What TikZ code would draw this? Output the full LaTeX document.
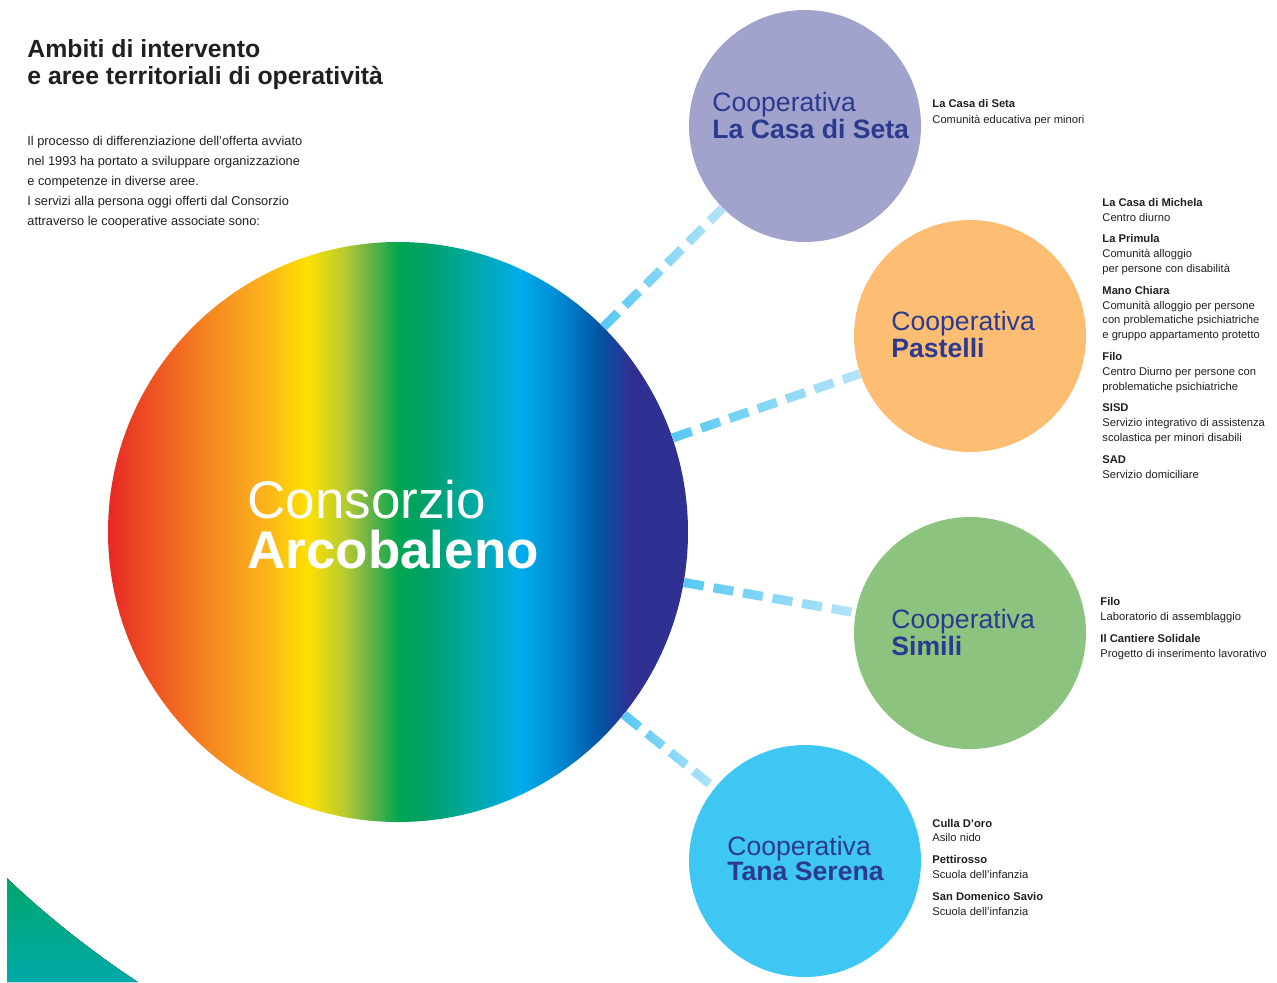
\documentclass[tikz,border=0pt]{standalone}
\usepackage{fontspec}
\setmainfont{Liberation Sans}
\usetikzlibrary{positioning, calc, fadings}
\definecolor{textdark}{HTML}{231F20}
\definecolor{coopblue}{HTML}{2B3A8E}
\definecolor{setafill}{HTML}{A1A3CD}
\definecolor{pastellifill}{HTML}{FDBE74}
\definecolor{similifill}{HTML}{8CC47F}
\definecolor{tanafill}{HTML}{3FC7F4}
\definecolor{linkdark}{HTML}{55C8F3}
\definecolor{linklight}{HTML}{B8E5FA}
\definecolor{cornertop}{HTML}{00A66B}
\definecolor{cornerbot}{HTML}{00AAA8}
%Rainbow for the big circle:
\definecolor{rbA}{HTML}{E62A25}
\definecolor{rbB}{HTML}{F47B20}
\definecolor{rbC}{HTML}{FBB01E}
\definecolor{rbD}{HTML}{FFE000}
\definecolor{rbE}{HTML}{B7CC30}
\definecolor{rbF}{HTML}{6DB446}
\definecolor{rbG}{HTML}{00A650}
\definecolor{rbH}{HTML}{00A06A}
\definecolor{rbI}{HTML}{00A99D}
\definecolor{rbJ}{HTML}{00ACEC}
\definecolor{rbK}{HTML}{0088D0}
\definecolor{rbL}{HTML}{0057A5}
\definecolor{rbM}{HTML}{2E3192}
\pgfdeclarehorizontalshading{rainbow}{100bp}{
color(0bp)=(rbA); color(25bp)=(rbA); color(32.6bp)=(rbB); color(38.2bp)=(rbC);
color(42.2bp)=(rbD); color(45.4bp)=(rbE); color(47.4bp)=(rbF); color(50.1bp)=(rbG);
color(52.4bp)=(rbH); color(56bp)=(rbI); color(60.6bp)=(rbJ); color(64bp)=(rbK);
color(67.2bp)=(rbL); color(69.9bp)=(rbM); color(100bp)=(rbM)}
\tikzfading[name=linkfade, left color=transparent!0, right color=transparent!100]
\tikzstyle{Link} = [
%Dashed connector, darker near the big circle:
line width=4.5pt, dash pattern=on 10pt off 5pt, draw=linklight,
postaction={draw=linkdark, path fading=linkfade}
]

\begin{document}
\begin{tikzpicture}[x=0.5pt, y=-0.5pt,
			coop/.style = {circle, inner sep=0pt, minimum size=116pt},
			cooptext/.style = {inner sep=0pt, anchor=base west, align=left, text=coopblue, font=\fontsize{13.3}{12.3}\selectfont},
			listtext/.style = {inner sep=0pt, anchor=base west, align=left, text=textdark, font=\fontsize{5.6}{7.4}\selectfont},
		]
		\useasboundingbox (0,0) rectangle (1277,982);
		\fill[top color=cornertop, bottom color=cornerbot] (7,878) .. controls (42,912) and (92,952) .. (138,982) -- (7,982) -- cycle;

		% anchors sit on the last baseline of each text block
		\node[inner sep=0pt, anchor=base west, align=left, text=textdark, font=\fontsize{12.4}{13.5}\selectfont\bfseries] (title) at (27,84) {Ambiti di intervento\\e aree territoriali di operatività};
		\node[inner sep=0pt, anchor=base west, align=left, text=textdark, font=\fontsize{6.4}{10}\selectfont] (intro) at (27,225) {Il processo di differenziazione dell'offerta avviato\\nel 1993 ha portato a sviluppare organizzazione\\e competenze in diverse aree.\\I servizi alla persona oggi offerti dal Consorzio\\attraverso le cooperative associate sono:};

		\node[circle, inner sep=0pt, minimum size=290pt, shading=rainbow] (cons) at (398,532){};
		\node[coop, fill=setafill] (seta) at (805,126){};
		\node[coop, fill=pastellifill] (pastelli) at (970,336){};
		\node[coop, fill=similifill] (simili) at (970,633){};
		\node[coop, fill=tanafill] (tana) at (805,861){};

		\draw[Link](cons)--(seta);
		\draw[Link](cons)--(pastelli);
		\draw[Link](cons)--(simili);
		\draw[Link](cons)--(tana);

		\node[inner sep=0pt, anchor=base west, align=left, text=white, font=\fontsize{26.5}{25}\selectfont] (consT) at (247,568) {Consorzio\\\textbf{Arcobaleno}};
		\node[cooptext] (setaT) at (712,138) {Cooperativa\\\textbf{La Casa di Seta}};
		\node[cooptext] (pastelliT) at (891,357) {Cooperativa\\\textbf{Pastelli}};
		\node[cooptext] (similiT) at (891,655) {Cooperativa\\\textbf{Simili}};
		\node[cooptext] (tanaT) at (727,880) {Cooperativa\\\textbf{Tana Serena}};

		\node[listtext] (setaL) at (932,123) {\textbf{La Casa di Seta}\\[0.6pt]Comunità educativa per minori};
		\node[listtext] (pastelliL) at (1102,478) {\textbf{La Casa di Michela}\\Centro diurno\\[3.5pt]
			\textbf{La Primula}\\Comunità alloggio\\per persone con disabilità\\[3.5pt]
			\textbf{Mano Chiara}\\Comunità alloggio per persone\\con problematiche psichiatriche\\e gruppo appartamento protetto\\[3.5pt]
			\textbf{Filo}\\Centro Diurno per persone con\\problematiche psichiatriche\\[3.5pt]
			\textbf{SISD}\\Servizio integrativo di assistenza\\scolastica per minori disabili\\[3.5pt]
			\textbf{SAD}\\Servizio domiciliare};
		\node[listtext] (similiL) at (1100,657) {\textbf{Filo}\\Laboratorio di assemblaggio\\[3.5pt]\textbf{Il Cantiere Solidale}\\Progetto di inserimento lavorativo};
		\node[listtext] (tanaL) at (932,915) {\textbf{Culla D'oro}\\Asilo nido\\[3.5pt]\textbf{Pettirosso}\\Scuola dell'infanzia\\[3.5pt]\textbf{San Domenico Savio}\\Scuola dell'infanzia};
	\end{tikzpicture}
\end{document}
